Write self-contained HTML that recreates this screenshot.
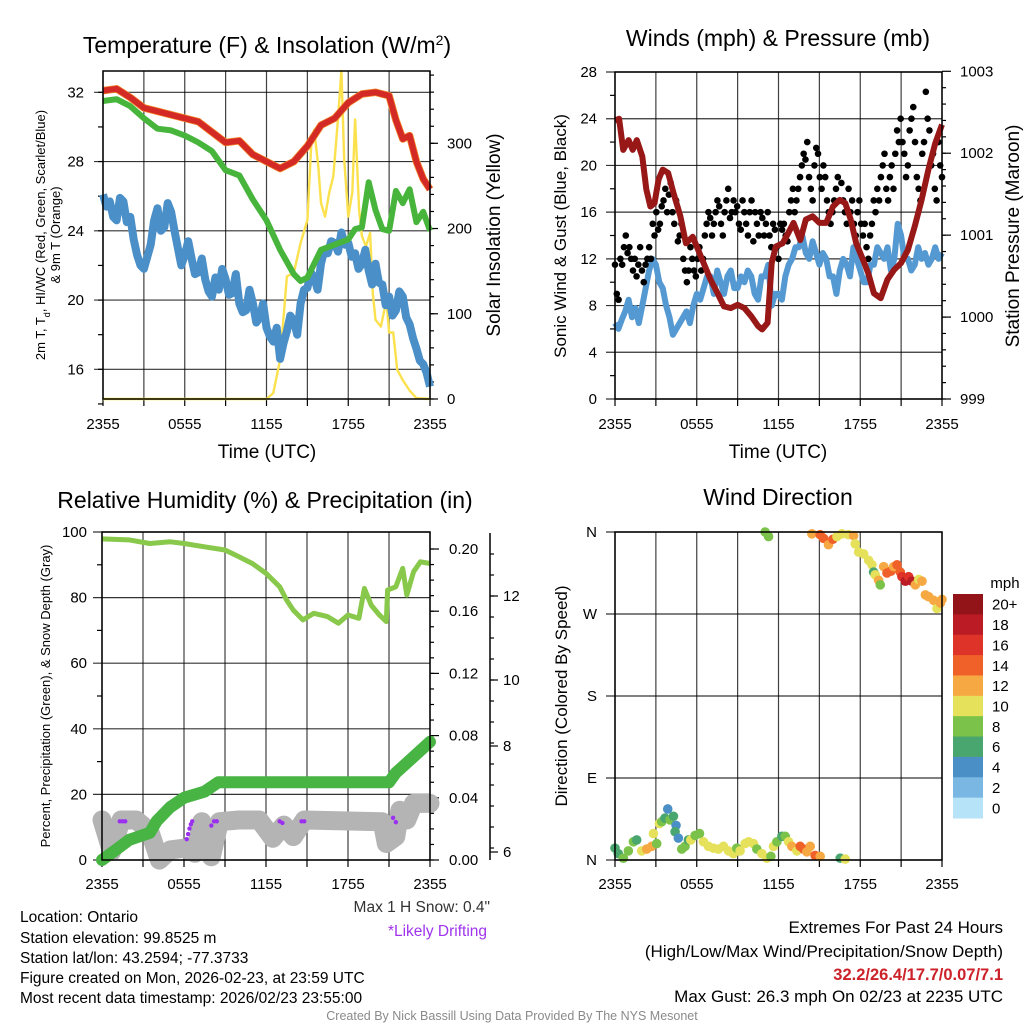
<!DOCTYPE html>
<html><head><meta charset="utf-8"><title>Mesonet Station Meteogram</title>
<style>
html,body{margin:0;padding:0;background:#fff;}
svg{display:block;font-family:"Liberation Sans",sans-serif;}
.t{font-size:23px;fill:#000;text-anchor:middle;}
.tk{font-size:15px;fill:#000;}
.ax{font-size:19px;fill:#000;text-anchor:middle;}
.info{font-size:15.5px;fill:#000;}
.rt{font-size:17px;fill:#000;text-anchor:end;}
</style></head><body>
<svg id="chart" width="1024" height="1024" viewBox="0 0 1024 1024" xmlns="http://www.w3.org/2000/svg">
<rect width="1024" height="1024" fill="#fff"/>
<text class="t" x="267" y="53">Temperature (F) &amp; Insolation (W/m<tspan baseline-shift="super" font-size="14">2</tspan>)</text>
<text class="t" x="778" y="46">Winds (mph) &amp; Pressure (mb)</text>
<text class="t" x="265" y="508">Relative Humidity (%) &amp; Precipitation (in)</text>
<text class="t" x="778" y="505">Wind Direction</text>
<text class="ax" x="267" y="458">Time (UTC)</text>
<text class="ax" x="778" y="458">Time (UTC)</text>
<text font-size="13" text-anchor="middle" transform="translate(45,235) rotate(-90)">2m T, T<tspan font-size="9" baseline-shift="sub">d</tspan>, HI/WC (Red, Green, Scarlet/Blue)</text>
<text font-size="13" text-anchor="middle" transform="translate(60,235) rotate(-90)">&amp; 9m T (Orange)</text>
<text class="ax" transform="translate(500,235) rotate(-90)">Solar Insolation (Yellow)</text>
<text font-size="17" text-anchor="middle" transform="translate(566,236) rotate(-90)">Sonic Wind &amp; Gust (Blue, Black)</text>
<text class="ax" transform="translate(1019,236) rotate(-90)">Station Pressure (Maroon)</text>
<text font-size="13" text-anchor="middle" transform="translate(50,696) rotate(-90)">Percent, Precipitation (Green), &amp; Snow Depth (Gray)</text>
<text font-size="17" text-anchor="middle" transform="translate(567,696) rotate(-90)">Direction (Colored By Speed)</text>
<text class="info" x="20" y="922">Location: Ontario</text>
<text class="info" x="20" y="943">Station elevation: 99.8525 m</text>
<text class="info" x="20" y="963">Station lat/lon: 43.2594; -77.3733</text>
<text class="info" x="20" y="983">Figure created on Mon, 2026-02-23, at 23:59 UTC</text>
<text class="info" x="20" y="1003">Most recent data timestamp: 2026/02/23 23:55:00</text>
<text font-size="15.5" x="490" y="912" text-anchor="end" fill="#333">Max 1 H Snow: 0.4"</text>
<text font-size="15.5" x="487" y="936" text-anchor="end" fill="#a033ee">*Likely Drifting</text>
<text class="rt" x="1003" y="933">Extremes For Past 24 Hours</text>
<text class="rt" x="1003" y="957">(High/Low/Max Wind/Precipitation/Snow Depth)</text>
<text x="1003" y="980" style="fill:#cc2229;font-weight:bold;font-size:16.5px;text-anchor:end">32.2/26.4/17.7/0.07/7.1</text>
<text class="rt" x="1003" y="1002" font-size="16.5">Max Gust: 26.3 mph On 02/23 at 2235 UTC</text>
<text font-size="12.5" x="512" y="1020" text-anchor="middle" fill="#8a8a8a">Created By Nick Bassill Using Data Provided By The NYS Mesonet</text>
<text font-size="15" x="1005" y="588" text-anchor="middle">mph</text>
<g id="layer"></g>
</svg>
<script>
var xTickLabels=["2355","0555","1155","1755","2355"];
var tempHours=[0,1,2,3,4,5,6,7,8,9,10,11,12,13,14,15,16,17,18,19,20,21,21.5,22,22.5,23,23.5,24];
var tempRed=[32.1,32.2,31.7,31.1,30.9,30.7,30.5,30.3,29.7,29.1,29.2,28.4,28.0,27.6,28.0,28.9,30.1,30.5,31.4,31.9,32.0,31.8,30.4,29.3,29.5,28.0,27.0,26.4];
var hiHours=[0,1,2,3,4,5,6,7,8,9,10,11,12,13,14,14.5,15,16,17,18,18.5,19,19.5,20,20.5,21,21.5,22,22.5,23,23.5,24];
var hiGreen=[31.5,31.6,31.2,30.5,29.9,29.8,29.5,29.1,28.6,27.5,27.2,25.8,24.6,22.9,21.5,21.1,21.3,22.9,23.2,23.5,24.1,24.2,26.8,25.2,24.1,24.0,26.3,25.6,26.4,24.5,25.1,24.0];
var dewBlue=[26.1,25.4,25.7,24.8,24.6,25.9,25.7,24.5,24.8,23.5,22.6,22.0,21.8,22.5,23.2,24.6,25.3,24.0,24.2,25.6,25.1,24.0,23.0,22.0,22.6,23.4,22.4,21.5,21.6,22.4,21.2,20.5,20.2,21.3,20.6,21.8,21.2,20.3,20.4,21.5,19.8,19.3,19.4,20.6,19.8,18.7,19.0,19.8,18.4,17.9,17.6,18.4,16.6,17.5,18.2,19.1,18.8,18.0,19.8,20.6,20.7,21.6,21.3,20.6,22.1,22.9,22.7,23.4,23.3,22.8,23.9,23.2,23.3,22.5,22.7,21.8,22.1,22.9,21.7,20.9,22.1,21.0,20.9,19.7,20.2,19.1,19.4,20.5,20.2,19.0,18.6,17.8,17.2,16.5,16.3,15.8,15.0];
var solHours=[0,12,12.5,13,13.5,14,14.5,15,15.3,15.5,15.8,16,16.3,16.6,16.9,17.2,17.5,17.7,18,18.3,18.5,18.8,19,19.3,19.6,19.8,20,20.4,20.8,21,21.3,21.6,22,22.5,23,24];
var solar=[0,0,7,46,144,148,183,210,304,316,273,230,214,242,261,320,385,281,214,242,328,222,191,179,195,124,93,85,116,78,78,34,22,10,1,0];
var tempTicks=[16,20,24,28,32];
var solarTicks=[0,100,200,300];
var pressHours=[0,0.3,0.6,1,1.3,1.6,2,2.3,2.6,2.9,3.2,3.5,3.9,4.3,4.8,5.2,5.7,6,6.5,7,7.5,8,8.5,9,9.5,10,10.5,10.8,11.2,11.5,11.8,12.3,12.7,13.1,13.6,14,14.5,15,15.5,16,16.5,16.9,17.3,17.7,18.2,18.6,19,19.5,20,20.5,21,21.5,22,22.5,23,23.5,24];
var pressure=[1002.40,1002.42,1002.04,1002.16,1002.04,1002.16,1001.96,1001.56,1001.35,1001.39,1001.68,1001.80,1001.76,1001.51,1001.23,1000.90,1000.98,1000.86,1000.66,1000.46,1000.30,1000.13,1000.11,1000.15,1000.11,1000.01,999.89,999.85,999.93,1000.66,1000.86,1000.90,1001.02,1001.15,1000.94,1001.19,1001.23,1001.15,1001.15,1001.35,1001.43,1001.39,1001.19,1000.90,1000.70,1000.53,1000.29,1000.23,1000.46,1000.58,1000.66,1000.82,1001.11,1001.43,1001.80,1002.12,1002.35];
var sonicWind=[6.5,6.0,6.8,7.5,8.5,7.0,7.8,6.5,8.0,9.5,11.0,12.0,11.5,10.0,9.5,8.0,7.0,5.5,6.0,6.5,7.0,7.5,6.5,8.0,9.0,8.5,9.5,10.5,10.5,9.0,11.0,10.0,9.0,10.5,11.0,9.5,9.5,10.5,10.0,11.0,10.5,9.0,8.5,10.5,10.5,11.5,8.0,9.0,9.0,8.5,10.5,11.5,12.0,13.0,13.0,14.0,12.5,12.0,13.5,12.5,11.5,12.5,12.0,10.5,10.5,9.0,11.0,12.0,11.5,10.5,13.0,12.0,11.0,10.0,10.0,11.5,11.5,13.0,12.5,12.0,13.0,11.0,12.0,15.0,14.0,12.0,12.0,11.0,11.5,13.0,12.0,12.5,11.5,12.0,13.0,12.0,12.5];
var gusts=[11.5,9,8.5,12,11.5,13,14,12.5,13,12,11,12,10.5,11.5,13,11,10,11.5,12,13,12,15,14,16,14.5,15,16.5,17,18,16,17.5,18.5,16,15,17,13.5,14,15,12,11,10,11,13,12,11,10.5,12,13,11,12,14,15,16,15.5,14,15,16,17,16.5,15,14,16,17,18,15.5,16,17,16,16.5,15,14.5,17,16,15,14,16,17,13.5,16,15,14,16,15.5,14,15,16,14,13,15,14.5,13,12,15,14.5,15,14,13.5,16,17,18,16,17,18,19,20,21,20.5,22,19,18,17,20,21.5,21,19,18,20,19,17,16,15,16,17,18,19,17,18.5,17,16,15,18,16,17,15,14,16,17,15,14,15,13,12,14,15,17,16,18,17,19,20,21,18,17,19,20,18,21,23,22,24,22,21,19,20,23,24,25,22,19,18,17,21,22,26.3,24,23,20,21,18,17,22,20,19];
var windTicks=[0,4,8,12,16,20,24,28];
var pressTicks=[999,1000,1001,1002,1003];
var rhHours=[0,2,3.5,5,6,7.5,9,10,11,12,13,13.5,14,14.7,15.5,16.5,17.3,18,18.8,19.2,19.7,20.3,20.8,20.9,21.5,22,22.3,22.8,23.3,24];
var rh=[97.9,97.6,96.5,97.0,96.5,95.5,94.5,92.5,90.4,87.4,83.3,79.3,76.2,73.2,75.2,74.2,72.2,74.7,73.7,82.8,77.7,74.7,72.7,82.3,83.3,88.9,80.8,87.9,90.9,90.4];
var precipHours=[0,1,2,3.5,4,5,6,7.5,8.5,21,21.5,22,23,24];
var precip=[0,0.0065,0.013,0.0175,0.025,0.034,0.040,0.044,0.050,0.050,0.056,0.060,0.068,0.076];
var snowHours=[0,0.7,1.4,2.5,3.5,4.2,5,6,6.8,7.3,8,8.6,10,11.5,12.5,13.3,14,14.8,20.5,20.8,21.5,21.8,22.3,22.8,24];
var snowDepth=[6.75,6.01,6.75,6.75,6.48,5.81,6.05,6.09,5.97,6.71,5.89,6.71,6.75,6.75,6.32,6.63,6.36,6.75,6.71,6.20,6.36,6.98,6.75,7.14,7.14];
var driftHours=[1.3,1.5,1.7,6.2,6.3,6.4,6.5,6.6,8.0,8.2,8.4,13.0,13.2,14.6,14.8,21.3,21.5];
var driftDepth=[6.72,6.72,6.72,6.30,6.42,6.55,6.65,6.72,6.62,6.72,6.72,6.72,6.68,6.72,6.72,6.80,6.70];
var rhTicks=[0,20,40,60,80,100];
var precipTicks=[0,0.04,0.08,0.12,0.16,0.20];
var precipTickLabels=["0.00","0.04","0.08","0.12","0.16","0.20"];
var snowTickLabels=["12","10","8","6"];
var dirHours=[0,0.24,0.61,0.98,1.35,1.59,1.96,2.33,2.69,2.82,3.06,3.26,3.43,3.67,3.87,4.04,4.29,4.48,4.41,4.65,4.9,5.14,5.39,5.56,5.88,6.2,6.49,6.86,7.22,7.59,7.96,8.33,8.69,8.94,9.18,9.55,9.8,10.16,10.41,10.78,11.14,11.44,11.63,11.88,12.25,12.49,12.74,12.98,13.35,13.59,13.84,14.08,14.33,14.69,15.06,16.53,16.9,
11.02,11.27,14.45,15.06,15.31,15.67,15.99,16.29,16.65,17.14,17.51,17.63,17.88,18.25,18.61,18.86,18.98,19.1,19.35,19.47,19.72,19.96,20.25,20.45,20.7,20.94,21.06,21.31,21.55,21.8,22.04,22.29,22.53,22.78,23.02,23.39,23.63,23.88,24];
var dirDeg=[13,7,2,10,20,22,10,12,15,29,18,40,42,46,56,44,48,38,31,24,12,15,22,22,27,29,20,15,13,12,15,10,7,13,10,18,20,18,12,7,2,4,15,20,26,26,20,15,10,15,12,9,15,5,4,2,1,
360,355,358,357,353,346,352,355,358,357,356,347,338,336,329,324,316,313,307,302,322,315,317,322,324,316,311,306,311,306,302,308,306,291,289,285,276,282,286];
var dirSpeed=[6,6,8,8,8,6,10,12,12,10,8,10,8,6,4,8,6,4,6,4,8,8,6,10,8,8,10,10,10,10,10,10,10,8,10,10,10,10,8,10,10,8,10,8,6,8,10,12,10,14,14,12,12,14,12,6,10,
8,8,12,14,14,12,14,10,10,10,12,10,10,10,10,10,6,10,12,8,12,14,14,12,14,14,16,18,16,18,12,10,12,12,12,12,10,12,12];
var dirTickLabels=["N","E","S","W","N"];
var speedBins=["0","2","4","6","8","10","12","14","16","18","20+"];
var speedColors=["#b6e3f8","#7ab8e3","#4a8fc5","#4aa66f","#7ac24a","#e6e15a","#f6a842","#f0612a","#de3328","#bb1b25","#921419"];

var NS="http://www.w3.org/2000/svg";
var layer=document.getElementById('layer');
function mk(tag,attrs,parent){var e=document.createElementNS(NS,tag);for(var k in attrs)e.setAttribute(k,attrs[k]);(parent||layer).appendChild(e);return e;}
function lin(d0,d1,r0,r1){return function(v){return r0+(v-d0)/(d1-d0)*(r1-r0);};}
function pathD(xs,ys,fx,fy){var d="";for(var i=0;i<xs.length;i++){d+=(i?"L":"M")+fx(xs[i]).toFixed(1)+","+fy(ys[i]).toFixed(1);}return d;}
function spread(arr){return arr.map(function(_,i){return i*24/(arr.length-1);});}

function frame(p,name){
  for(var i=0;i<=8;i++){
    var x=p.x(i*3);
    var g=mk('line',{x1:x,y1:p.T,x2:x,y2:p.B,stroke:'#000','stroke-width':1.2,'stroke-opacity':0.75});
    
    
    var tk=mk('line',{x1:x,y1:p.B,x2:x,y2:p.B+7,stroke:'#000','stroke-width':1.2});
    
    
  }
  for(var j=0;j<xTickLabels.length;j++){
    var t=mk('text',{x:p.x(j*6),y:p.B+p.lab,'text-anchor':'middle','class':'tk'});
    t.textContent=xTickLabels[j];
    
    
  }
}
function border(p,name){
  var r=mk('rect',{x:p.L,y:p.T,width:p.R-p.L,height:p.B-p.T,fill:'none',stroke:'#000','stroke-width':1.5});
  
  
}
function hgrid(p,y,name){
  var g=mk('line',{x1:p.L-9,y1:y,x2:p.R,y2:y,stroke:'#000','stroke-width':1.2,'stroke-opacity':0.8});
  
  
}
function label(x,y,txt,anchor,name){
  var t=mk('text',{x:x,y:y+5,'text-anchor':anchor,'class':'tk'});
  t.textContent=txt;
  
  
}
function rtick(x,y,len,name){
  var t=mk('line',{x1:x,y1:y,x2:x+len,y2:y,stroke:'#000','stroke-width':1.2});
  
  
}

// PANEL 1
var p1={L:103,R:430,T:71,B:399,lab:30};
p1.x=lin(0,24,p1.L,p1.R);
var yT=lin(32,16,92.3,369.3);
var yS=lin(0,300,399,143.3);
frame(p1,'temp');
tempTicks.forEach(function(v){hgrid(p1,yT(v),'temp-hgrid');label(84,yT(v),String(v),'end','temp-y-tick-label');});
for(var v=14;v<=33;v+=2){rtick(p1.L-5,yT(v),5,'temp-minor-tick');}
solarTicks.forEach(function(v){rtick(p1.R,yS(v),8,'solar-tick');label(447,yS(v),String(v),'start','solar-y-tick-label');});
for(var s=0;s<=380;s+=20){rtick(p1.R,yS(s),4,'solar-minor-tick');}
var pSol=mk('path',{d:pathD(solHours,solar,p1.x,yS),fill:'none',stroke:'#fbe14e','stroke-width':2.4,'stroke-linejoin':'round'});


var pBlue=mk('path',{d:pathD(spread(dewBlue),dewBlue,p1.x,yT),fill:'none',stroke:'#4a8fc8','stroke-width':8,'stroke-linejoin':'round'});


var pGreen=mk('path',{d:pathD(hiHours,hiGreen,p1.x,yT),fill:'none',stroke:'#47b43c','stroke-width':6,'stroke-linejoin':'round'});


var pOr=mk('path',{d:pathD(tempHours,tempRed,p1.x,yT),fill:'none',stroke:'#f58a2e','stroke-width':7.5,'stroke-linejoin':'round'});


var pRed=mk('path',{d:pathD(tempHours,tempRed,p1.x,yT),fill:'none',stroke:'#d42a26','stroke-width':6,'stroke-linejoin':'round'});


border(p1,'temp');

// PANEL 2
var p2={L:615,R:942,T:72,B:399,lab:30};
p2.x=lin(0,24,p2.L,p2.R);
var yW=lin(0,28,399,72);
var yP=lin(999,1003,399,71.3);
frame(p2,'wind');
windTicks.forEach(function(v){hgrid(p2,yW(v),'wind-hgrid');label(597,yW(v),String(v),'end','wind-y-tick-label');});
for(var w=2;w<28;w+=4){rtick(p2.L-5,yW(w),5,'wind-minor-tick');}
pressTicks.forEach(function(v){rtick(p2.R,yP(v),9,'pressure-tick');label(960,yP(v),String(v),'start','pressure-y-tick-label');});
for(var q=999;q<=1003;q+=0.2){rtick(p2.R,yP(q),4,'pressure-minor-tick');}
var pW=mk('path',{d:pathD(spread(sonicWind),sonicWind,p2.x,yW),fill:'none',stroke:'#5599d2','stroke-width':6,'stroke-linejoin':'round'});


for(var gi=0;gi<gusts.length;gi++){
  var c=mk('circle',{cx:p2.x(gi*24/(gusts.length-1)),cy:yW(gusts[gi]),r:3.3,fill:'#000'});
  
  
}
var pP=mk('path',{d:pathD(pressHours,pressure,p2.x,yP),fill:'none',stroke:'#981818','stroke-width':6,'stroke-linejoin':'round'});


border(p2,'wind');

// PANEL 3
var p3={L:102,R:430,T:532,B:860,lab:29};
p3.x=lin(0,24,p3.L,p3.R);
var yR=lin(0,100,860,532);
var yPr=lin(0,0.2,860,549);
var ySn=lin(6,12,852,596);
frame(p3,'humidity');
rhTicks.forEach(function(v){hgrid(p3,yR(v),'humidity-hgrid');label(87,yR(v),String(v),'end','humidity-y-tick-label');});
for(var rr=10;rr<100;rr+=20){rtick(p3.L-5,yR(rr),5,'humidity-minor-tick');}
precipTicks.forEach(function(v,i){rtick(p3.R,yPr(v),9,'precip-tick');label(449,yPr(v),precipTickLabels[i],'start','precip-y-tick-label');});
for(var pp=0;pp<=0.21;pp+=0.01){rtick(p3.R,yPr(pp),4,'precip-minor-tick');}
var sax=mk('line',{x1:490,y1:533,x2:490,y2:860,stroke:'#000','stroke-width':1.5});


var snowTickY=[596,680,746,852];
snowTickLabels.forEach(function(l,i){rtick(490,snowTickY[i],8,'snow-tick');label(503,snowTickY[i],l,'start','snow-y-tick-label');});
for(var sy=554;sy<860;sy+=21){rtick(490,sy,4,'snow-minor-tick');}
var pSn=mk('path',{d:pathD(snowHours,snowDepth,p3.x,ySn),fill:'none',stroke:'#b4b4b4','stroke-width':19,'stroke-linejoin':'round','stroke-linecap':'round'});


for(var di=0;di<driftHours.length;di++){
  var dc=mk('circle',{cx:p3.x(driftHours[di]),cy:ySn(driftDepth[di]),r:2.2,fill:'#9b30f0'});
  
  
}
var pPr=mk('path',{d:pathD(precipHours,precip,p3.x,yPr),fill:'none',stroke:'#47b443','stroke-width':12,'stroke-linejoin':'round','stroke-linecap':'round'});


var pRh=mk('path',{d:pathD(rhHours,rh,p3.x,yR),fill:'none',stroke:'#88c84a','stroke-width':5,'stroke-linejoin':'round'});


border(p3,'humidity');

// PANEL 4
var p4={L:615,R:942,T:532,B:860,lab:29};
p4.x=lin(0,24,p4.L,p4.R);
var yD=lin(0,360,860,532);
frame(p4,'direction');
dirTickLabels.forEach(function(l,i){var yy=yD(i*90);hgrid(p4,yy,'direction-hgrid');label(597,yy,l,'end','direction-y-tick-label');});
for(var k=0;k<dirHours.length;k++){
  var bin=Math.min(10,Math.floor(dirSpeed[k]/2));
  var dc2=mk('circle',{cx:p4.x(dirHours[k]),cy:yD(dirDeg[k]),r:4.8,fill:speedColors[bin]});
  
  
}
border(p4,'direction');
var cbTop=594,cbH=224/11;
for(var b=0;b<11;b++){
  var idx=10-b;
  var cr=mk('rect',{x:953,y:cbTop+b*cbH,width:30,height:cbH+0.5,fill:speedColors[idx]});
  
  
  var ct=mk('text',{x:992,y:cbTop+b*cbH+cbH/2+5.5,'class':'tk'});
  ct.textContent=speedBins[idx];
  
  
}
</script>
</body></html>
